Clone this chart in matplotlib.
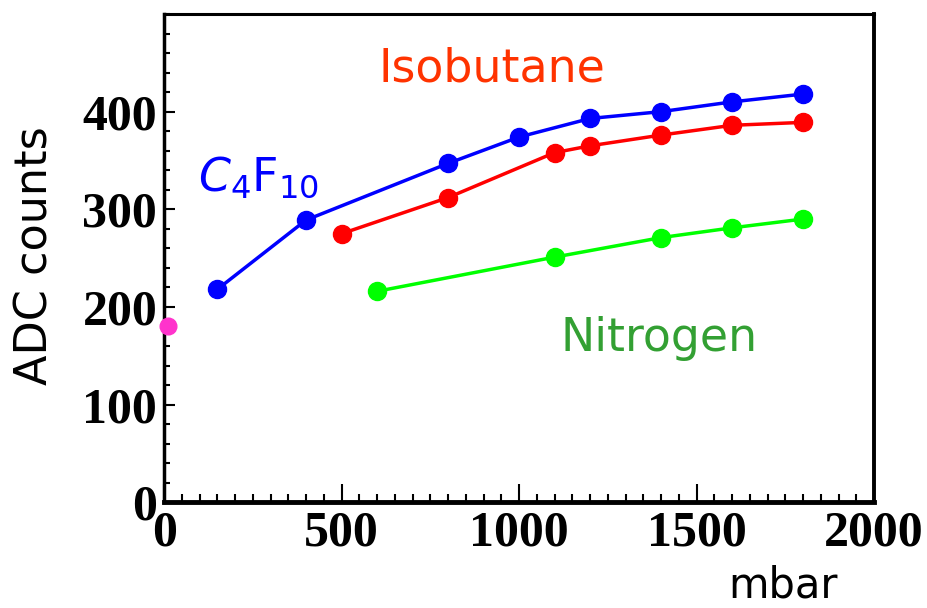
import matplotlib
matplotlib.use("Agg")
import matplotlib.pyplot as plt
from matplotlib.ticker import MultipleLocator

plt.rcParams['mathtext.fontset'] = 'dejavusans'

# Data
c4f10_x = [150, 400, 800, 1000, 1200, 1400, 1600, 1800]
c4f10_y = [218, 289, 347, 374, 393, 400, 410, 418]

iso_x = [500, 800, 1100, 1200, 1400, 1600, 1800]
iso_y = [275, 312, 358, 365, 376, 386, 389]

n2_x = [600, 1100, 1400, 1600, 1800]
n2_y = [216, 251, 271, 281, 290]

extra_x = [10]
extra_y = [180]

x_ticks = [0, 500, 1000, 1500, 2000]
y_ticks = [0, 100, 200, 300, 400]

fig = plt.figure(figsize=(9.27, 6.08), dpi=100)
ax = fig.add_axes([0.177, 0.174, 0.766, 0.803])

ax.plot(c4f10_x, c4f10_y, '-o', color='#0000ff', lw=2.5, ms=13, zorder=3)
ax.plot(iso_x, iso_y, '-o', color='#ff0000', lw=2.5, ms=13, zorder=3)
ax.plot(n2_x, n2_y, '-o', color='#00ff00', lw=2.5, ms=13, zorder=3)
ax.plot(extra_x, extra_y, 'o', color='#ff33cc', ms=12, clip_on=False, zorder=4)

ax.set_xlim(0, 2000)
ax.set_ylim(0, 500)
ax.set_xticks(x_ticks)
ax.set_yticks(y_ticks)
ax.xaxis.set_minor_locator(MultipleLocator(50))
ax.yaxis.set_minor_locator(MultipleLocator(20))

tick_font = dict(family='Liberation Serif', weight='bold', size=36)
ax.set_xticklabels([str(v) for v in x_ticks], fontdict=tick_font)
ax.set_yticklabels([str(v) for v in y_ticks], fontdict=tick_font)

ax.tick_params(axis='x', which='major', direction='in', length=13, width=1.5, pad=6)
ax.tick_params(axis='x', which='minor', direction='in', length=6, width=1.5)
ax.tick_params(axis='y', which='major', direction='in', length=8, width=1.5, pad=5)
ax.tick_params(axis='y', which='minor', direction='in', length=4.5, width=1.5)

ax.spines['left'].set_linewidth(2.5)
ax.spines['bottom'].set_linewidth(3.5)
ax.spines['top'].set_linewidth(2.2)
ax.spines['right'].set_linewidth(2.8)

ax.text(924, 444, 'Isobutane', color='#ff3300', fontsize=33, ha='center', va='center')
ax.text(1394, 168, 'Nitrogen', color='#33a033', fontsize=33, ha='center', va='center')
ax.text(96, 319, r'$C_4$F$_{10}$', color='#0000ff', fontsize=33, ha='left', va='baseline')

fig.text(0.038, 0.58, 'ADC counts', rotation=90, fontsize=32, ha='center', va='center')
fig.text(0.845, 0.002, 'mbar', fontsize=30, ha='center', va='bottom')

fig.savefig('out.png', dpi=100)
